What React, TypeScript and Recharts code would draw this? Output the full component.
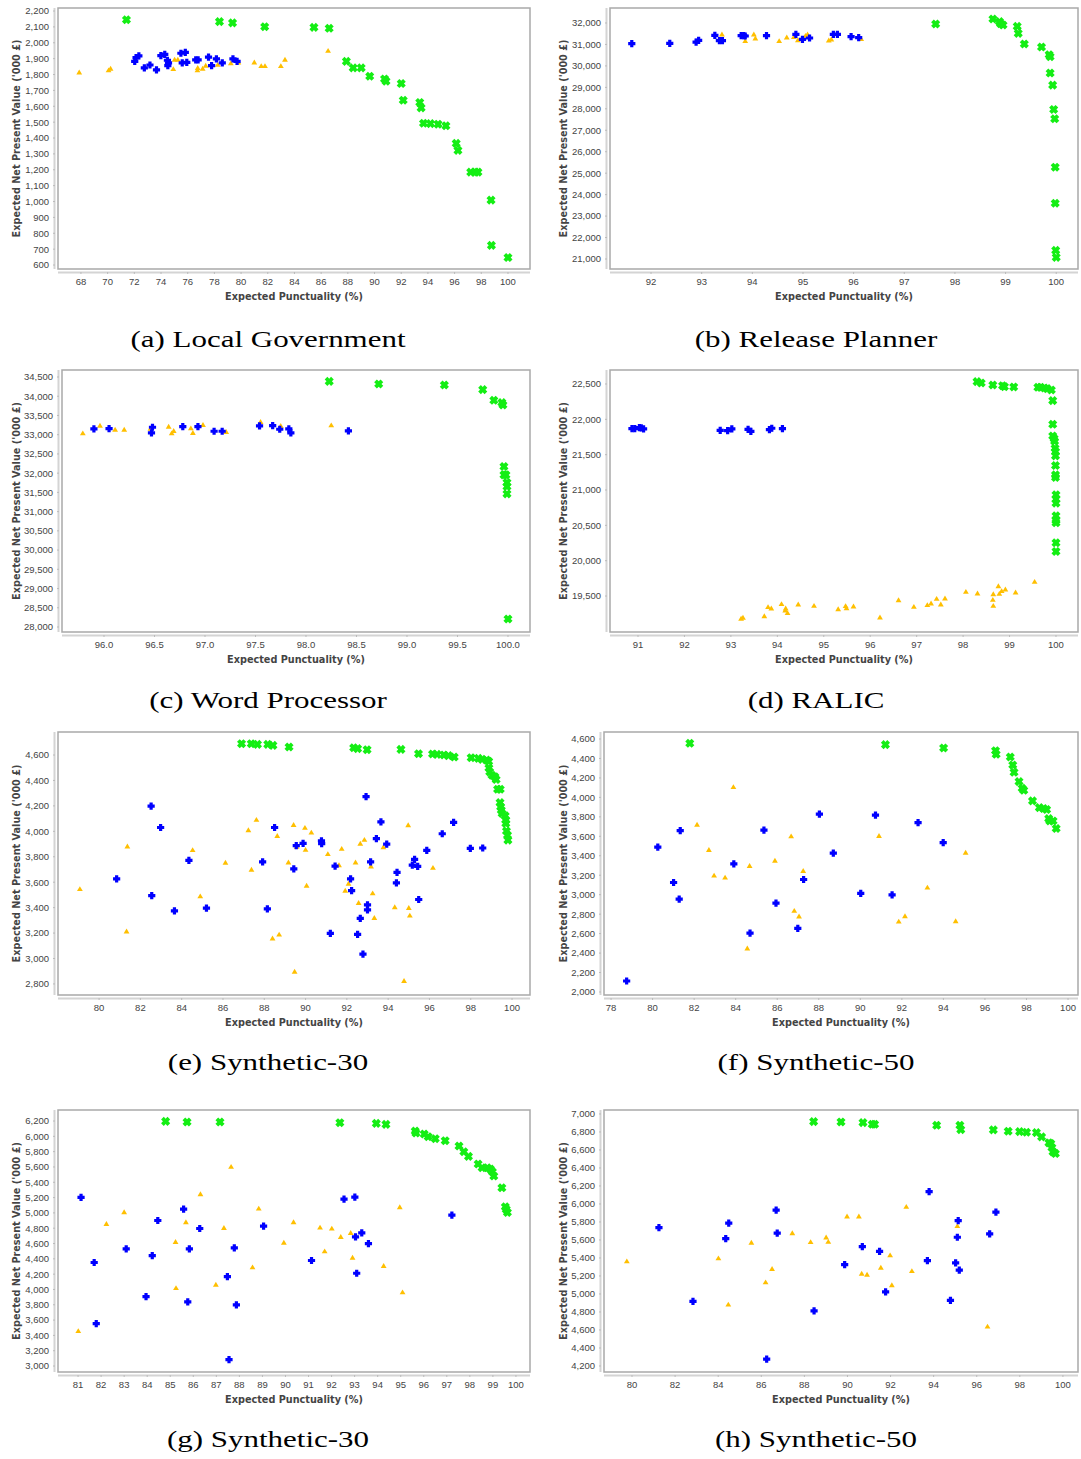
import React from "react";
import { ScatterChart, Scatter, XAxis, YAxis, ReferenceArea } from "recharts";

type Pt = [number, number];

// (a) Local Government
const lgGreen: Pt[] = [[71.41,2145],[78.38,2133],[79.36,2125],[81.77,2101],[85.46,2097],[86.6,2091],[87.89,1883],[88.4,1842],[89.0,1842],[89.64,1789],[90.75,1772],[90.86,1758],[92.0,1743],[92.15,1638],[93.39,1624],[93.49,1590],[93.67,1493],[94.19,1491],[94.76,1487],[95.35,1477],[96.12,1366],[96.25,1322],[97.21,1185],[97.55,1185],[97.75,1185],[98.73,1009],[98.76,724],[100.0,647]];
const lgBlue: Pt[] = [[72.03,1883],[72.13,1906],[72.34,1917],[72.75,1842],[73.17,1860],[73.66,1829],[73.99,1919],[74.28,1927],[74.48,1890],[74.51,1856],[74.56,1873],[75.49,1934],[75.59,1873],[75.82,1940],[75.93,1877],[76.6,1892],[76.78,1892],[77.56,1909],[77.79,1856],[78.15,1898],[78.59,1873],[79.39,1898],[79.7,1883]];
const lgOrange: Pt[] = [[67.87,1814],[70.07,1827],[70.22,1837],[74.92,1835],[75.02,1894],[75.26,1894],[76.73,1827],[76.75,1842],[77.12,1837],[77.35,1856],[78.25,1862],[79.23,1871],[79.8,1877],[80.99,1877],[81.51,1854],[81.79,1854],[82.98,1854],[83.29,1894],[86.52,1950]];
const lgXTicks = [68,70,72,74,76,78,80,82,84,86,88,90,92,94,96,98,100];
const lgYTicks = [600,700,800,900,1000,1100,1200,1300,1400,1500,1600,1700,1800,1900,2000,2100,2200];

// (b) Release Planner
const rpGreen: Pt[] = [[97.62,31953],[98.75,32187],[98.88,32062],[98.9,31969],[98.95,31907],[99.23,31844],[99.25,31518],[99.37,31020],[99.71,30880],[99.86,30522],[99.88,30429],[99.88,29666],[99.93,29106],[99.95,27970],[99.97,27534],[99.98,25278],[99.98,23598],[99.99,21404],[100.0,21077]];
const rpBlue: Pt[] = [[91.62,31035],[92.37,31051],[92.89,31113],[92.94,31191],[93.26,31424],[93.35,31175],[93.41,31175],[93.78,31409],[93.83,31409],[93.86,31393],[94.28,31409],[94.86,31471],[94.99,31238],[95.13,31300],[95.6,31471],[95.68,31471],[95.95,31362],[96.1,31315]];
const rpOrange: Pt[] = [[93.4,31471],[93.86,31160],[94.03,31471],[94.06,31284],[94.53,31160],[94.68,31331],[94.82,31347],[94.9,31206],[95.05,31409],[95.09,31471],[95.51,31191],[95.56,31238],[96.15,31253]];
const rpXTicks = [92,93,94,95,96,97,98,99,100];
const rpYTicks = [21000,22000,23000,24000,25000,26000,27000,28000,29000,30000,31000,32000];

// (c) Word Processor
const wpGreen: Pt[] = [[98.23,34387],[98.72,34318],[99.37,34292],[99.75,34171],[99.86,33894],[99.94,33834],[99.95,33773],[99.96,32172],[99.96,31955],[99.98,31955],[99.99,31756],[99.99,31652],[99.99,31462],[100.0,28208]];
const wpBlue: Pt[] = [[95.9,33150],[96.05,33158],[96.47,33046],[96.48,33193],[96.78,33210],[96.93,33210],[97.09,33089],[97.17,33089],[97.54,33228],[97.67,33236],[97.74,33141],[97.83,33150],[97.85,33046],[98.42,33098]];
const wpOrange: Pt[] = [[95.79,33037],[95.96,33236],[96.11,33132],[96.2,33132],[96.46,33158],[96.64,33210],[96.67,33037],[96.69,33098],[96.86,33167],[96.88,33046],[96.98,33254],[97.21,33072],[97.55,33332],[97.75,33228],[98.25,33245]];
const wpXTicks = [96,96.5,97,97.5,98,98.5,99,99.5,100];
const wpYTicks = [28000,28500,29000,29500,30000,30500,31000,31500,32000,32500,33000,33500,34000,34500];

// (d) RALIC
const raGreen: Pt[] = [[98.3,22533],[98.39,22514],[98.64,22486],[98.85,22476],[98.89,22462],[99.09,22458],[99.61,22453],[99.67,22453],[99.75,22443],[99.81,22434],[99.9,22415],[99.93,22265],[99.93,21930],[99.93,21765],[99.96,21728],[99.97,21690],[99.98,21591],[99.99,21544],[99.99,21483],[99.99,21346],[99.99,21214],[99.99,21177],[100.0,20932],[100.0,20870],[100.0,20814],[100.0,20635],[100.0,20569],[100.0,20536],[100.0,20253],[100.0,20131]];
const raBlue: Pt[] = [[90.87,21869],[90.93,21869],[91.03,21883],[91.07,21878],[91.12,21864],[92.77,21845],[92.93,21841],[93.02,21864],[93.37,21859],[93.43,21831],[93.83,21855],[93.88,21874],[94.11,21869]];
const raOrange: Pt[] = [[93.22,19180],[93.26,19194],[93.72,19217],[93.8,19345],[93.87,19326],[94.09,19387],[94.18,19326],[94.17,19297],[94.22,19260],[94.45,19382],[94.79,19363],[95.31,19316],[95.47,19359],[95.49,19330],[95.64,19354],[96.21,19199],[96.61,19443],[96.94,19349],[97.23,19373],[97.31,19396],[97.43,19462],[97.52,19382],[97.61,19467],[98.06,19561],[98.31,19538],[98.64,19448],[98.65,19363],[98.65,19528],[98.76,19641],[98.78,19533],[98.83,19571],[98.91,19594],[99.13,19552],[99.54,19702]];
const raXTicks = [91,92,93,94,95,96,97,98,99,100];
const raYTicks = [19500,20000,20500,21000,21500,22000,22500];

// (e) Synthetic-30
const s30aGreen: Pt[] = [[86.9,4689],[87.37,4689],[87.67,4684],[88.17,4684],[88.42,4676],[89.2,4663],[92.33,4657],[92.52,4650],[92.98,4642],[94.62,4644],[95.47,4610],[96.15,4608],[96.37,4605],[96.7,4600],[96.92,4595],[97.2,4584],[98.02,4579],[98.37,4574],[98.55,4566],[98.77,4561],[98.87,4550],[98.88,4498],[98.92,4467],[99.03,4441],[99.17,4428],[99.23,4407],[99.3,4331],[99.43,4331],[99.42,4226],[99.45,4192],[99.48,4166],[99.52,4140],[99.67,4122],[99.7,4088],[99.7,4062],[99.73,4002],[99.78,3970],[99.8,3931]];
const s30aBlue: Pt[] = [[80.85,3626],[82.52,4198],[82.55,3495],[82.98,4030],[83.65,3375],[84.35,3772],[85.2,3396],[87.92,3759],[88.15,3390],[88.5,4030],[89.55,3887],[89.43,3704],[89.88,3905],[90.77,3926],[90.78,3903],[91.2,3197],[91.43,3727],[92.18,3626],[92.23,3534],[92.52,3189],[92.65,3315],[92.78,3035],[92.93,4273],[93.0,3422],[93.0,3383],[93.15,3759],[93.43,3942],[93.65,4075],[93.93,3900],[94.4,3594],[94.43,3678],[95.17,3735],[95.28,3780],[95.43,3725],[95.48,3464],[95.87,3850],[96.62,3981],[97.17,4070],[97.98,3866],[98.58,3869]];
const s30aOrange: Pt[] = [[79.07,3547],[81.37,3882],[81.33,3213],[84.53,3853],[84.9,3490],[86.12,3754],[87.23,4010],[87.38,3699],[87.62,4091],[88.63,3965],[88.4,3158],[88.72,3189],[89.17,3756],[89.42,4051],[89.47,2897],[89.57,3879],[89.97,4028],[90.0,3855],[90.05,3573],[90.28,3991],[91.08,3822],[91.62,3735],[91.75,3863],[91.92,3534],[92.08,3589],[92.42,3756],[92.57,3438],[92.65,3903],[92.85,3934],[93.17,3725],[93.25,3513],[93.33,3320],[93.77,3876],[94.32,3404],[94.77,2824],[94.97,4049],[95.0,3398],[95.05,3338],[96.17,3714]];
const s30aXTicks = [80,82,84,86,88,90,92,94,96,98,100];
const s30aYTicks = [2800,3000,3200,3400,3600,3800,4000,4200,4400,4600];

// (f) Synthetic-50
const s50aGreen: Pt[] = [[81.79,4556],[91.21,4542],[94.01,4508],[96.51,4480],[96.54,4443],[97.22,4415],[97.34,4333],[97.4,4258],[97.64,4162],[97.79,4094],[97.87,4073],[98.29,3964],[98.62,3895],[98.82,3885],[98.97,3875],[99.07,3782],[99.12,3758],[99.28,3758],[99.43,3680]];
const s50aBlue: Pt[] = [[78.75,2113],[80.25,3488],[81.01,3125],[81.28,2954],[81.33,3659],[83.91,3317],[84.69,2605],[85.36,3663],[85.94,2913],[86.99,2653],[87.27,3156],[88.03,3827],[88.7,3427],[90.02,3013],[90.73,3817],[91.53,2999],[92.78,3741],[93.99,3536]];
const s50aOrange: Pt[] = [[82.14,3721],[82.71,3461],[82.96,3197],[83.49,3177],[83.89,4107],[84.56,2448],[84.67,3297],[85.89,3351],[86.67,3601],[86.82,2835],[87.05,2777],[87.25,3245],[90.9,3604],[91.85,2725],[92.15,2780],[93.23,3074],[94.59,2729],[95.07,3433]];
const s50aXTicks = [78,80,82,84,86,88,90,92,94,96,98,100];
const s50aYTicks = [2000,2200,2400,2600,2800,3000,3200,3400,3600,3800,4000,4200,4400,4600];

// (g) Synthetic-30
const s30bGreen: Pt[] = [[84.8,6196],[85.73,6187],[87.16,6187],[92.36,6178],[93.94,6169],[94.36,6156],[95.63,6069],[95.66,6043],[96.02,6030],[96.19,5995],[96.5,5969],[96.93,5943],[97.53,5873],[97.74,5799],[97.94,5738],[98.36,5638],[98.53,5590],[98.76,5590],[98.89,5572],[98.98,5537],[99.04,5481],[99.39,5328],[99.54,5080],[99.58,5045],[99.63,5006]];
const s30bBlue: Pt[] = [[81.13,5202],[81.7,4352],[81.79,3554],[83.09,4530],[83.95,3907],[84.22,4443],[84.46,4901],[85.58,5049],[85.76,3837],[85.83,4530],[86.28,4796],[87.48,4169],[87.55,3083],[87.78,4543],[87.87,3798],[89.05,4827],[91.13,4378],[92.54,5180],[93.01,5206],[93.04,4687],[93.09,4212],[93.31,4740],[93.6,4600],[97.22,4971]];
const s30bOrange: Pt[] = [[81.01,3458],[82.23,4857],[83.0,5010],[85.25,4020],[85.23,4622],[85.68,4879],[86.31,5245],[86.98,4064],[87.33,4805],[87.64,5603],[88.57,4291],[88.84,5058],[89.93,4613],[90.35,4879],[91.5,4809],[91.7,4500],[92.01,4796],[92.4,4687],[92.83,4740],[92.91,4417],[94.26,4308],[94.96,5075],[95.08,3964]];
const s30bXTicks = [81,82,83,84,85,86,87,88,89,90,91,92,93,94,95,96,97,98,99,100];
const s30bYTicks = [3000,3200,3400,3600,3800,4000,4200,4400,4600,4800,5000,5200,5400,5600,5800,6000,6200];

// (h) Synthetic-50
const s50bGreen: Pt[] = [[88.43,6915],[89.7,6911],[90.72,6904],[91.15,6885],[91.26,6885],[94.14,6874],[95.22,6874],[95.26,6826],[96.77,6823],[97.46,6808],[97.99,6804],[98.31,6797],[98.77,6793],[99.01,6745],[99.35,6679],[99.44,6671],[99.49,6627],[99.54,6579],[99.65,6560]];
const s50bBlue: Pt[] = [[81.25,5737],[82.83,4917],[84.35,5615],[84.49,5788],[86.25,4277],[86.69,5932],[86.74,5677],[88.45,4813],[89.87,5327],[90.69,5526],[91.49,5474],[91.77,5024],[93.71,5371],[93.79,6136],[94.78,4928],[95.02,5345],[95.1,5630],[95.14,5814],[95.19,5264],[96.6,5667],[96.89,5910]];
const s50bOrange: Pt[] = [[79.76,5364],[84.01,5397],[84.47,4883],[85.54,5570],[86.2,5131],[86.5,5279],[87.44,5677],[88.29,5578],[89.01,5629],[89.11,5581],[89.98,5862],[90.53,5862],[90.66,5227],[90.91,5216],[91.55,5293],[91.98,5430],[92.06,5098],[92.73,5969],[92.99,5256],[95.1,5755],[96.5,4639]];
const s50bXTicks = [80,82,84,86,88,90,92,94,96,98,100];
const s50bYTicks = [4200,4400,4600,4800,5000,5200,5400,5600,5800,6000,6200,6400,6600,6800,7000];

const BLUE = "#0000ff";
const ORANGE = "#ffbf00";
const GREEN = "#14ee14";
const TICK_FONT = "'Liberation Sans', Arial, sans-serif";
const TITLE_FONT = "'DejaVu Sans', Verdana, sans-serif";

const BlueMark = ({ cx, cy }: any) => {
  const a = 3.6, b = 1.6;
  return (
    <path
      d={`M${cx - a},${cy - b}H${cx - b}V${cy - a}H${cx + b}V${cy - b}H${cx + a}V${cy + b}H${cx + b}V${cy + a}H${cx - b}V${cy + b}H${cx - a}Z`}
      fill={BLUE}
    />
  );
};

const OrangeMark = ({ cx, cy }: any) => (
  <path d={`M${cx},${cy - 2.8}L${cx + 2.9},${cy + 2.1}L${cx - 2.9},${cy + 2.1}Z`} fill={ORANGE} />
);

const GreenMark = ({ cx, cy }: any) => {
  const l = 3.2, t = 1.35;
  const pts = [
    [-l - t, -l + t], [-l + t, -l - t], [0, -2 * t], [l - t, -l - t], [l + t, -l + t], [2 * t, 0],
    [l + t, l - t], [l - t, l + t], [0, 2 * t], [-l + t, l + t], [-l - t, l - t], [-2 * t, 0],
  ];
  return <polygon points={pts.map(([x, y]) => `${cx + x},${cy + y}`).join(" ")} fill={GREEN} />;
};

const XTick = ({ x, y, payload, fmt }: any) => (
  <g>
    <line x1={x} x2={x} y1={y + 3} y2={y + 5} stroke="#bbb" />
    <text x={x} y={y + 16} textAnchor="middle" fill="#444" fontSize={9.5} fontFamily={TICK_FONT}>
      {fmt(payload.value)}
    </text>
  </g>
);

const YTick = ({ x, y, payload }: any) => (
  <g>
    <line x1={x - 5} x2={x - 3} y1={y} y2={y} stroke="#bbb" />
    <text x={x - 9} y={y} dy={3.4} textAnchor="end" fill="#444" fontSize={9.5} fontFamily={TICK_FONT}>
      {Number(payload.value).toLocaleString("en-US")}
    </text>
  </g>
);

interface PanelDef {
  col: number;
  boxL: number;
  boxR: number;
  boxT: number;
  boxB: number;
  xDomain: [number, number];
  yDomain: [number, number];
  xTicks: number[];
  yTicks: number[];
  xDigits: number;
  blue: Pt[];
  orange: Pt[];
  green: Pt[];
  caption: string;
  captionTop: number;
}

const panels: PanelDef[] = [
  { col: 0, boxL: 58, boxR: 530, boxT: 8, boxB: 269, xDomain: [66.28, 101.65], yDomain: [575, 2219], xTicks: lgXTicks, yTicks: lgYTicks, xDigits: 0, blue: lgBlue, orange: lgOrange, green: lgGreen, caption: "(a) Local Government", captionTop: 327 },
  { col: 1, boxL: 610, boxR: 1078, boxT: 8, boxB: 269, xDomain: [91.19, 100.43], yDomain: [20534, 32699], xTicks: rpXTicks, yTicks: rpYTicks, xDigits: 0, blue: rpBlue, orange: rpOrange, green: rpGreen, caption: "(b) Release Planner", captionTop: 327 },
  { col: 0, boxL: 62, boxR: 530, boxT: 370, boxB: 632, xDomain: [95.584, 100.218], yDomain: [27870, 34682], xTicks: wpXTicks, yTicks: wpYTicks, xDigits: 1, blue: wpBlue, orange: wpOrange, green: wpGreen, caption: "(c) Word Processor", captionTop: 688 },
  { col: 1, boxL: 610, boxR: 1078, boxT: 370, boxB: 632, xDomain: [90.397, 100.474], yDomain: [18991, 22698], xTicks: raXTicks, yTicks: raYTicks, xDigits: 0, blue: raBlue, orange: raOrange, green: raGreen, caption: "(d) RALIC", captionTop: 688 },
  { col: 0, boxL: 58, boxR: 530, boxT: 732, boxB: 995, xDomain: [78.01, 100.87], yDomain: [2713, 4781], xTicks: s30aXTicks, yTicks: s30aYTicks, xDigits: 0, blue: s30aBlue, orange: s30aOrange, green: s30aGreen, caption: "(e) Synthetic-30", captionTop: 1050 },
  { col: 1, boxL: 604, boxR: 1078, boxT: 732, boxB: 995, xDomain: [77.66, 100.48], yDomain: [1969, 4672], xTicks: s50aXTicks, yTicks: s50aYTicks, xDigits: 0, blue: s50aBlue, orange: s50aOrange, green: s50aGreen, caption: "(f) Synthetic-50", captionTop: 1050 },
  { col: 0, boxL: 58, boxR: 530, boxT: 1110, boxB: 1372, xDomain: [80.13, 100.61], yDomain: [2922, 6344], xTicks: s30bXTicks, yTicks: s30bYTicks, xDigits: 0, blue: s30bBlue, orange: s30bOrange, green: s30bGreen, caption: "(g) Synthetic-30", captionTop: 1427 },
  { col: 1, boxL: 604, boxR: 1078, boxT: 1110, boxB: 1372, xDomain: [78.7, 100.7], yDomain: [4133, 7044], xTicks: s50bXTicks, yTicks: s50bYTicks, xDigits: 0, blue: s50bBlue, orange: s50bOrange, green: s50bGreen, caption: "(h) Synthetic-50", captionTop: 1427 },
];

const toObj = (arr: Pt[]) => arr.map(([x, y]) => ({ x, y }));

const Panel = ({ p }: { p: PanelDef }) => {
  const colLeft = p.col === 0 ? 0 : 540;
  const W = p.col === 0 ? 540 : 541;
  const top = p.boxT - 8;
  const boxH = p.boxB - p.boxT;
  const H = boxH + 8 + 36;
  const fmtX = (v: number) => v.toFixed(p.xDigits);
  const yTitleX = p.col === 0 ? 16 : 23;
  const yTitleY = 8 + boxH / 2;
  const xTitleX = (p.boxL + p.boxR) / 2 - colLeft;
  const capCenter = p.col === 0 ? 268 : 816;

  return (
    <>
      <div style={{ position: "absolute", left: colLeft, top }}>
        <ScatterChart width={W} height={H} margin={{ top: 8, right: colLeft + W - p.boxR, bottom: 0, left: 0 }}>
          <XAxis
            type="number"
            dataKey="x"
            domain={p.xDomain}
            allowDataOverflow
            ticks={p.xTicks}
            interval={0}
            height={36}
            tickSize={0}
            tickMargin={0}
            tickLine={false}
            axisLine={{ stroke: "#d4d4d4", strokeWidth: 2, transform: "translate(0,3.5)" }}
            tick={(t: any) => <XTick {...t} fmt={fmtX} />}
            label={() => (
              <text x={xTitleX} y={H - 5} textAnchor="middle" fill="#444" fontWeight="bold" fontSize={9.7} fontFamily={TITLE_FONT}>
                Expected Punctuality (%)
              </text>
            )}
          />
          <YAxis
            type="number"
            dataKey="y"
            domain={p.yDomain}
            allowDataOverflow
            ticks={p.yTicks}
            interval={0}
            width={p.boxL - colLeft}
            tickSize={0}
            tickMargin={0}
            tickLine={false}
            axisLine={{ stroke: "#d4d4d4", strokeWidth: 2, transform: "translate(-3.5,0)" }}
            tick={(t: any) => <YTick {...t} />}
            label={() => (
              <text
                x={yTitleX}
                y={yTitleY}
                transform={`rotate(-90 ${yTitleX} ${yTitleY})`}
                textAnchor="middle"
                dominantBaseline="central"
                fill="#444"
                fontWeight="bold"
                fontSize={9.7}
                fontFamily={TITLE_FONT}
              >
                Expected Net Present Value ('000 £)
              </text>
            )}
          />
          <ReferenceArea
            x1={p.xDomain[0]}
            x2={p.xDomain[1]}
            y1={p.yDomain[0]}
            y2={p.yDomain[1]}
            fill="none"
            fillOpacity={0}
            stroke="#a9a9a9"
            strokeWidth={1.5}
            ifOverflow="visible"
          />
          <Scatter data={toObj(p.orange)} isAnimationActive={false} shape={(s: any) => <OrangeMark {...s} />} />
          <Scatter data={toObj(p.blue)} isAnimationActive={false} shape={(s: any) => <BlueMark {...s} />} />
          <Scatter data={toObj(p.green)} isAnimationActive={false} shape={(s: any) => <GreenMark {...s} />} />
        </ScatterChart>
      </div>
      <div
        style={{
          position: "absolute",
          left: capCenter - 250,
          top: p.captionTop,
          width: 500,
          textAlign: "center",
          fontFamily: "'Liberation Serif', 'Times New Roman', serif",
          fontSize: 24,
          lineHeight: "24px",
          color: "#000",
          transform: "scaleX(1.29)",
          transformOrigin: "center",
          whiteSpace: "nowrap",
        }}
      >
        {p.caption}
      </div>
    </>
  );
};

export default function App() {
  return (
    <div style={{ position: "absolute", left: 0, top: 0, width: 1081, height: 1459, background: "#fff", overflow: "hidden" }}>
      {panels.map((p, i) => (
        <Panel key={i} p={p} />
      ))}
    </div>
  );
}
